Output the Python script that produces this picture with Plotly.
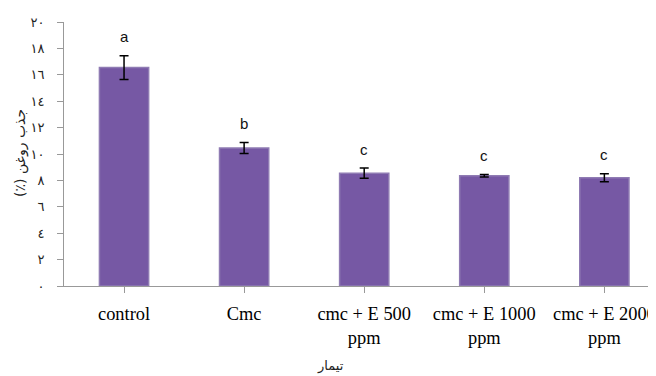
import plotly.graph_objects as go

categories = ["control", "Cmc", "cmc + E 500<br>ppm", "cmc + E 1000<br>ppm", "cmc + E 2000<br>ppm"]
means = [16.55, 10.45, 8.55, 8.35, 8.2]
errors = [0.9, 0.42, 0.38, 0.1, 0.3]
letters = ["a", "b", "c", "c", "c"]
ytick_vals = [0, 2, 4, 6, 8, 10, 12, 14, 16, 18, 20]
ytick_text = ["٠", "٢", "٤", "٦", "٨", "١٠", "١٢", "١٤", "١٦", "١٨", "٢٠"]
y_title = "\u202bجذب روغن (٪)\u202c"
x_title = "تیمار"

x = list(range(len(categories)))

# page body has an 8px margin: figure is offset by (8, 8)
W, H = 648, 368
L, T, B = 56, 14, 90
pw, ph = W - L, H - T - B

fig = go.Figure()
fig.add_trace(go.Bar(
    x=x, y=means,
    width=0.41,
    marker=dict(color="#7658a4", line=dict(color="#8f7bb3", width=1.5)),
    error_y=dict(type="data", array=errors, visible=True, color="black", thickness=1.5, width=4.5),
    showlegend=False,
))

for xi, m, e, lab in zip(x, means, errors, letters):
    fig.add_annotation(x=xi, y=m + e, text=lab, showarrow=False, yanchor="middle", yshift=19,
                       font=dict(family="Liberation Sans", size=15, color="#111"))

fig.add_annotation(xref="paper", yref="paper", x=(21 - 64) / pw, y=0.504, text=y_title, textangle=-90,
                   showarrow=False, xanchor="center", yanchor="middle",
                   font=dict(family="DejaVu Sans", size=14, color="#222"))
fig.add_annotation(xref="paper", yref="paper", x=(330 - 64) / pw, y=(286 - 366) / ph, text=x_title,
                   showarrow=False, xanchor="center", yanchor="middle",
                   font=dict(family="DejaVu Sans", size=13, color="#222"))

fig.update_layout(
    width=W, height=H,
    margin=dict(l=L, r=0, t=T, b=B, pad=0),
    plot_bgcolor="white", paper_bgcolor="white",
    xaxis=dict(range=[-0.5, 4.43], tickvals=x, ticktext=categories, tickson="boundaries",
               ticks="outside", ticklen=6, tickcolor="#999", showline=True, linecolor="#999", linewidth=1,
               showgrid=False, zeroline=False, ticklabelstandoff=5, ticklabeloverflow="allow",
               tickfont=dict(family="Liberation Serif", size=18.4, color="#000")),
    yaxis=dict(range=[0, 20], tickvals=ytick_vals, ticktext=ytick_text, ticks="outside", ticklen=6,
               tickcolor="#999", showline=True, linecolor="#999", linewidth=1, showgrid=False,
               zeroline=False, ticklabelstandoff=10,
               tickfont=dict(family="DejaVu Sans", size=13, color="#222")),
)

fig.write_html("out.html")
